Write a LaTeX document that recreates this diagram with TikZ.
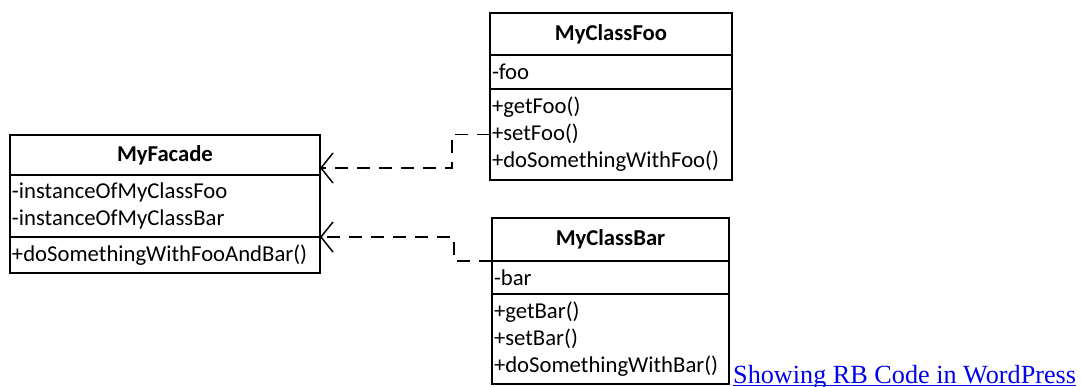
\documentclass[tikz,border=0pt]{standalone}
\usepackage{fontspec}
\setmainfont{Carlito}
\newfontfamily\linkfont{Liberation Serif}
\usetikzlibrary{positioning,arrows.meta}
\definecolor{linkblue}{RGB}{0,0,238}

\tikzset{
  umlpart/.style={draw, line width=1.5pt, outer sep=0pt, inner xsep=2pt, inner ysep=0pt,
    font=\fontsize{22.7}{27}\selectfont},
  classname/.style={umlpart, text width=#1, align=center, minimum height=42pt,
    font=\fontsize{22.7}{27}\selectfont\bfseries},
  classbody/.style={umlpart, text width=#1, align=left},
  depends/.style={line width=1.5pt, dash pattern=on 13pt off 9pt,
    -{Straight Barb[length=12pt,width=30pt]}}
}

\begin{document}
\begin{tikzpicture}[x=1pt,y=-1pt]
\useasboundingbox (0,0) rectangle (1081,387);

% facade
\node[classname=306pt, minimum height=40pt, anchor=north west] (facade) at (10,135) {MyFacade};
\node[classbody=306pt, minimum height=62pt, below=0pt of facade] (facadeattr) {-instanceOfMyClassFoo\\-instanceOfMyClassBar};
\node[classbody=306pt, minimum height=36pt, below=0pt of facadeattr] (facadeops) {+doSomethingWithFooAndBar()};

% foo
\node[classname=238pt, anchor=north west] (foo) at (490,13) {MyClassFoo};
\node[classbody=238pt, minimum height=34pt, below=0pt of foo] (fooattr) {-foo};
\node[classbody=238pt, minimum height=91pt, below=0pt of fooattr] (fooops) {+getFoo()\\+setFoo()\\+doSomethingWithFoo()};

% bar
\node[classname=233pt, minimum height=43pt, anchor=north west] (bar) at (492,218) {MyClassBar};
\node[classbody=233pt, minimum height=33pt, below=0pt of bar] (barattr) {-bar};
\node[classbody=233pt, minimum height=90pt, below=0pt of barattr] (barops) {+getBar()\\+setBar()\\+doSomethingWithBar()};

% dependencies
\draw[depends] (fooops.west) -- ++(-38,0) |- ([yshift=7pt]facade.south east);
\draw[depends] (bar.south west) -- ++(-38,0) |- (facadeattr.south east);

% link below the picture
\node[anchor=base west, inner sep=0pt, text=linkblue, font=\linkfont\fontsize{26.2}{28}\selectfont] (link) at (733,383) {Showing RB Code in WordPress};
\draw[linkblue, line width=1.3pt] ([yshift=-2.6pt]link.base west) -- ([yshift=-2.6pt]link.base east);
\end{tikzpicture}
\end{document}
